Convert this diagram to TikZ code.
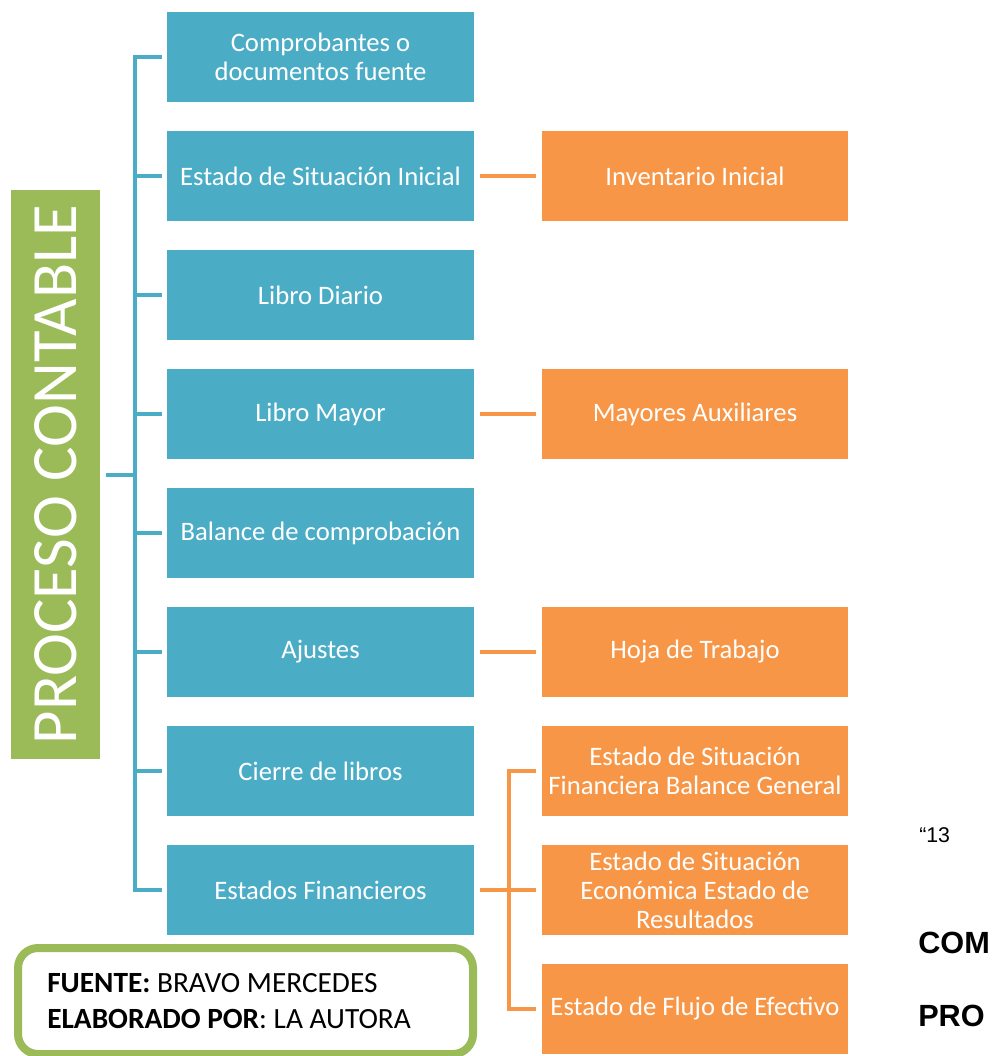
\documentclass[tikz,border=0pt]{standalone}
\usepackage{fontspec}
\setmainfont{Carlito}
\newfontfamily\arialfont{Liberation Sans}
\definecolor{pcblue}{HTML}{4BACC6}
\definecolor{pcorange}{HTML}{F79646}
\definecolor{pcgreen}{HTML}{9BBB59}

\begin{document}
\begin{tikzpicture}[x=0.75pt,y=-0.75pt,
  paso/.style={fill=pcblue,text=white,minimum width=230.25pt,minimum height=67.5pt,
    inner sep=0pt,align=center,font=\fontsize{20}{21.75}\selectfont},
  detalle/.style={paso,fill=pcorange,minimum width=229.5pt},
  linkazul/.style={draw=pcblue,line width=3pt},
  linknaranja/.style={draw=pcorange,line width=3pt}]

\useasboundingbox (0,0) rectangle (997,1056);

\node[fill=pcgreen,text=white,rotate=90,minimum width=426.75pt,minimum height=66.75pt,
  inner sep=0pt,font=\fontsize{48.5}{50}\selectfont] (proceso) at (55.4,474.5) {PROCESO CONTABLE};

\node[paso] (b1) at (320.5,57) {Comprobantes o\\documentos fuente};
\node[paso] (b2) at (320.5,176) {Estado de Situación Inicial};
\node[paso] (b3) at (320.5,295) {Libro Diario};
\node[paso] (b4) at (320.5,414) {Libro Mayor};
\node[paso] (b5) at (320.5,533) {Balance de comprobación};
\node[paso] (b6) at (320.5,652) {Ajustes};
\node[paso] (b7) at (320.5,771) {Cierre de libros};
\node[paso] (b8) at (320.5,890) {Estados Financieros};

\node[detalle] (o1) at (695,176) {Inventario Inicial};
\node[detalle] (o2) at (695,414) {Mayores Auxiliares};
\node[detalle] (o3) at (695,652) {Hoja de Trabajo};
\node[detalle] (o4) at (695,771) {Estado de Situación\\Financiera Balance General};
\node[detalle] (o5) at (695,890) {Estado de Situación\\Económica Estado de\\Resultados};
\node[detalle] (o6) at (695,1009) {Estado de Flujo de Efectivo};

% llave azul
\coordinate (spine) at (135,474.5);
\draw[linkazul,shorten <=4.5pt] (proceso.south) -- (spine);
\draw[linkazul,shorten <=3.75pt,shorten >=3.75pt] (b1.west) -| (spine) |- (b8.west);
\foreach \i in {2,...,7}{
\draw[linkazul,shorten >=3.75pt] (spine |- b\i.west) -- (b\i.west);}

% ramas naranjas
\draw[linknaranja,shorten <=4.5pt,shorten >=4.5pt] (b2.east) -- (o1.west);
\draw[linknaranja,shorten <=4.5pt,shorten >=4.5pt] (b4.east) -- (o2.west);
\draw[linknaranja,shorten <=4.5pt,shorten >=4.5pt] (b6.east) -- (o3.west);
\coordinate (ospine) at (509,890);
\draw[linknaranja,shorten <=4.5pt] (b8.east) -- (ospine);
\draw[linknaranja,shorten <=4.5pt,shorten >=4.5pt] (o4.west) -| (ospine) |- (o6.west);
\draw[linknaranja,shorten >=4.5pt] (ospine) -- (o5.west);

% fuente
\node[draw=pcgreen,line width=6pt,rounded corners=15pt,minimum width=341.25pt,minimum height=79.5pt,
  inner sep=0pt] (fuente) at (245.5,1001) {};
\node[anchor=west,align=left,inner sep=0pt,font=\fontsize{22}{27}\selectfont] (credito) at (47,1001)
  {\textbf{FUENTE:} BRAVO MERCEDES\\\textbf{ELABORADO POR}: LA AUTORA};

\node[anchor=west,inner sep=0pt,font=\arialfont\fontsize{16}{18}\selectfont] (nota) at (919,835) {“13};
\node[anchor=west,inner sep=0pt,font=\arialfont\bfseries\fontsize{23}{26}\selectfont] (com) at (918,943) {COM};
\node[anchor=west,inner sep=0pt,font=\arialfont\bfseries\fontsize{23}{26}\selectfont] (pro) at (918,1016) {PRO};

\end{tikzpicture}
\end{document}
